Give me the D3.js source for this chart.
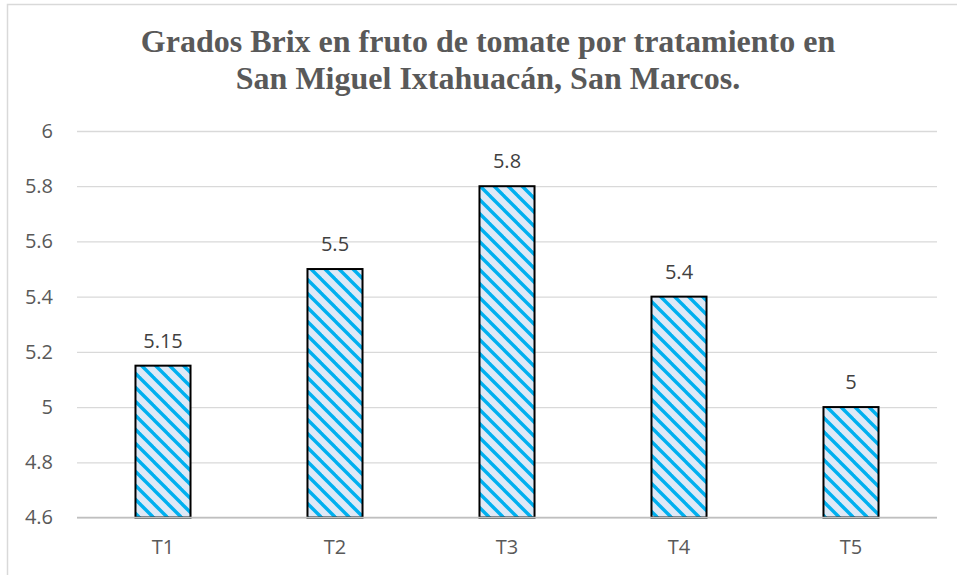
<!DOCTYPE html>
<html>
<head>
<meta charset="utf-8">
<script src="https://cdnjs.cloudflare.com/ajax/libs/d3/7.8.5/d3.min.js"></script>
<style>
    body { margin: 0; background: #ffffff; }
</style>
</head>
<body>
<script>
/**
 * Bar chart of Brix degrees per treatment, drawn with D3.
 */

// chart data
let titleLines = ["Grados Brix en fruto de tomate por tratamiento en",
                  "San Miguel Ixtahuacán, San Marcos."];
let treatments = ["T1", "T2", "T3", "T4", "T5"];
let brix = [5.15, 5.5, 5.8, 5.4, 5];
let labels = ["5.15", "5.5", "5.8", "5.4", "5"];
let yTicks = [4.6, 4.8, 5, 5.2, 5.4, 5.6, 5.8, 6];


window.onload = function() {
    let w = 957;
    let h = 575;
    let margins = {top: 131, bottom: 575 - 517.5, left: 77, right: 957 - 937};
    let dims = {w: w, h: h, margins: margins,
                width: w - margins.left - margins.right,
                height: h - margins.top - margins.bottom};
    main(dims);
};


/**
 * Draws the frame, title, grid, bars and labels.
 */
function main(dims) {
    let svg = d3.select("body")
                .append("svg")
                .attr("width", dims.w)
                .attr("height", dims.h);

    // stripe pattern for bars
    let pattern = svg.append("defs")
                     .append("pattern")
                     .attr("id", "stripes")
                     .attr("patternUnits", "userSpaceOnUse")
                     .attr("width", 14)
                     .attr("height", 14);
    pattern.append("rect")
           .attr("width", 14)
           .attr("height", 14)
           .attr("fill", "#dee9f6");
    pattern.selectAll("line")
           .data([[-7, 7, 7, 21], [0, 0, 14, 14], [7, -7, 21, 7]])
           .enter()
           .append("line")
           .attr("x1", d => d[0])
           .attr("y1", d => d[1])
           .attr("x2", d => d[2])
           .attr("y2", d => d[3])
           .attr("stroke", "#00b0f0")
           .attr("stroke-width", 3.4);

    // chart frame, cut off on the right and bottom
    svg.append("rect")
       .attr("x", 7.5)
       .attr("y", 4.5)
       .attr("width", 1000)
       .attr("height", 700)
       .attr("fill", "none")
       .attr("stroke", "#d9d9d9")
       .attr("stroke-width", 1.5);

    // title
    svg.append("g")
       .selectAll("text")
       .data(titleLines)
       .enter()
       .append("text")
       .attr("x", 488)
       .attr("y", (d, i) => 52 + i * 37)
       .attr("text-anchor", "middle")
       .style("font-family", "'Liberation Serif', 'Times New Roman', serif")
       .style("font-weight", "bold")
       .style("font-size", "32px")
       .style("fill", "#595959")
       .text(d => d);

    let x = d3.scaleBand()
              .domain(treatments)
              .range([dims.margins.left, dims.margins.left + dims.width])
              .paddingInner(0.68)
              .paddingOuter(0.34);

    let y = d3.scaleLinear()
              .domain([4.6, 6])
              .range([dims.margins.top + dims.height, dims.margins.top]);

    // gridlines and y tick labels
    let yAxis = d3.axisLeft(y)
                  .tickValues(yTicks)
                  .tickSize(-dims.width)
                  .tickPadding(24)
                  .tickFormat(d3.format("~g"));

    let gy = svg.append("g")
                .attr("transform", "translate(" + dims.margins.left + ",0)")
                .call(yAxis);
    gy.select(".domain").remove();
    gy.selectAll("line")
      .attr("stroke", "#d9d9d9")
      .attr("stroke-width", 1.3);
    gy.selectAll("text")
      .style("font-family", "'Open Sans', sans-serif")
      .style("font-size", "20px")
      .style("fill", "#595959");

    // bars
    svg.append("g")
       .selectAll("rect")
       .data(brix)
       .enter()
       .append("rect")
       .attr("x", (d, i) => x(treatments[i]))
       .attr("y", d => y(d))
       .attr("width", x.bandwidth())
       .attr("height", d => y(4.6) - y(d))
       .attr("fill", "url(#stripes)")
       .attr("stroke", "#000000")
       .attr("stroke-width", 2);

    // base axis line over the bars
    svg.append("line")
       .attr("x1", dims.margins.left)
       .attr("x2", dims.margins.left + dims.width)
       .attr("y1", y(4.6))
       .attr("y2", y(4.6))
       .attr("stroke", "#bfbfbf")
       .attr("stroke-width", 1.5);

    // value labels
    svg.append("g")
       .selectAll("text")
       .data(brix)
       .enter()
       .append("text")
       .attr("x", (d, i) => x(treatments[i]) + x.bandwidth() / 2)
       .attr("y", d => y(d) - 18)
       .attr("text-anchor", "middle")
       .style("font-family", "'Open Sans', sans-serif")
       .style("font-size", "20px")
       .style("fill", "#404040")
       .text((d, i) => labels[i]);

    // category labels
    let xAxis = d3.axisBottom(x)
                  .tickSize(0)
                  .tickPadding(22);
    let gx = svg.append("g")
                .attr("transform", "translate(0," + y(4.6) + ")")
                .call(xAxis);
    gx.select(".domain").remove();
    gx.selectAll("text")
      .style("font-family", "'Open Sans', sans-serif")
      .style("font-size", "20px")
      .style("fill", "#595959");
}
</script>
</body>
</html>
